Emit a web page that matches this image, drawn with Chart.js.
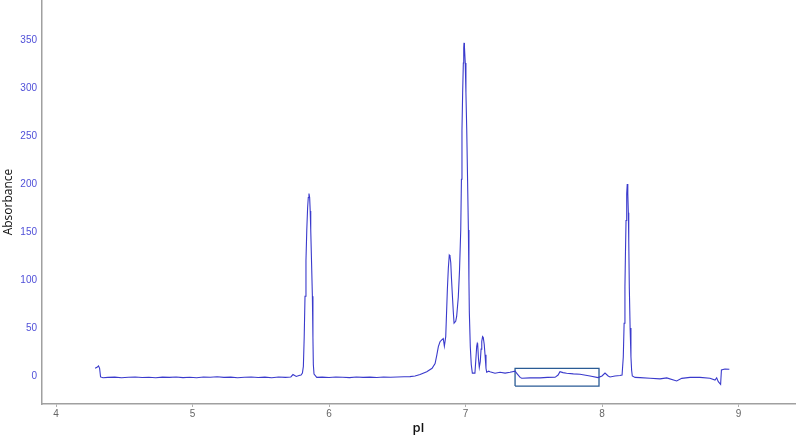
<!DOCTYPE html>
<html>
<head>
<meta charset="utf-8">
<script src="https://cdn.jsdelivr.net/npm/chart.js@4/dist/chart.umd.min.js"></script>
<style>
  html, body { margin: 0; padding: 0; background: #fff; }
  #wrap { width: 800px; height: 438px; }
</style>
</head>
<body>
<div id="wrap"><canvas id="chart"></canvas></div>
<script>
// pI positions and absorbance
const pI = [
  4.286, 4.300, 4.311, 4.319, 4.326, 4.344, 4.38, 4.43, 4.48, 4.53, 4.58, 4.63, 4.68, 4.73,
  4.78, 4.83, 4.88, 4.93, 4.98, 5.03, 5.08, 5.13, 5.18, 5.23, 5.28, 5.33, 5.38, 5.43, 5.48,
  5.53, 5.58, 5.63, 5.68, 5.72, 5.736, 5.76, 5.78, 5.795, 5.805,
  5.812, 5.818, 5.824, 5.831, 5.837, 5.843, 5.848, 5.853, 5.858, 5.862, 5.866, 5.872, 5.878,
  5.882, 5.885, 5.89, 5.91, 5.95, 6.00, 6.05, 6.10, 6.15, 6.20, 6.25, 6.30,
  6.35, 6.40, 6.45, 6.50, 6.55, 6.593, 6.63, 6.667, 6.716, 6.755, 6.777, 6.79, 6.801, 6.813,
  6.826, 6.837, 6.845, 6.855, 6.867, 6.874, 6.881, 6.886, 6.892, 6.897, 6.903, 6.910, 6.916,
  6.928, 6.935, 6.947, 6.956, 6.965, 6.970, 6.974, 6.979, 6.984, 6.987, 6.989, 6.992, 6.998,
  7.003, 7.009, 7.015, 7.021, 7.025, 7.028, 7.035, 7.042, 7.050, 7.069, 7.076, 7.082, 7.086,
  7.089, 7.095, 7.101, 7.108, 7.114, 7.119, 7.125, 7.130, 7.137, 7.143, 7.150, 7.155,
  7.170, 7.179, 7.216, 7.253, 7.29, 7.326, 7.363, 7.38, 7.40,
  7.412, 7.473, 7.546, 7.60, 7.656, 7.678, 7.692, 7.714, 7.741, 7.79, 7.839, 7.912, 7.971,
  8.0, 8.022, 8.045, 8.059, 8.095, 8.132, 8.147, 8.156, 8.162, 8.168, 8.172, 8.176, 8.181,
  8.185, 8.189, 8.193, 8.196, 8.200, 8.206, 8.212, 8.217, 8.222,
  8.242, 8.279, 8.352, 8.425, 8.474, 8.547, 8.584, 8.645, 8.718, 8.791, 8.828,
  8.840, 8.852, 8.869, 8.875, 8.901, 8.933
];
const absorbance = [
  8, 9, 10.5, 8, -1, -1.8, -1.5, -1.2, -1.8, -1.3, -1.0, -1.6, -1.4, -1.9,
  -1.2, -1.5, -1.0, -1.7, -1.3, -1.8, -1.1, -1.4, -0.8, -1.5, -1.2, -1.9, -1.3, -1.0, -1.6,
  -1.2, -1.8, -1.1, -1.5, -1.0, 1.5, -0.5, 0.5, 1, 3,
  10, 40, 83, 120, 152, 175, 186, 190, 186, 172, 152, 118, 83,
  40, 12, 2, -1.5, -1.2, -1.6, -1.0, -1.4, -1.7, -1.1, -1.5, -1.2,
  -1.6, -1.0, -1.3, -1.0, -0.8, -0.7, 0, 1.5, 4.5, 8, 13, 22, 30.5, 35.7,
  37.5, 39, 31, 41, 90, 112, 126, 125, 118, 102, 86, 68, 55,
  57, 62, 82, 110, 152, 205, 256, 295, 326, 342, 347, 343, 326,
  295, 256, 205, 152, 100, 66, 30.5, 12, 3, 3, 18, 31, 34,
  33, 18, 9, 15, 28, 36, 41, 40, 33, 22, 8, 4,
  5, 4.5, 2.8, 3.8, 3, 3.8, 5, 2, -1.5,
  -2.4, -2, -2, -1.5, -1.4, 1, 4.5, 3.5, 2.8, 2.2, 1.8, 0, -1.7,
  0, 3, 0, -1, 0, 0.5, 1, 20, 55, 93, 130, 162, 190,
  200, 190, 170, 140, 93, 50, 20, 6, 0,
  -1.5, -1.7, -2.4, -3, -2, -5.2, -2.5, -1.5, -1.5, -2.4, -4.2,
  -2, -6, -8.7, 6.2, 7.3, 7
];

// highlighted region (pI range and absorbance range of the box)
const boxPI = [7.363, 7.363, 7.978, 7.978, 7.363];
const boxAbs = [-10.5, 8, 8, -10.5, -10.5];

const xTicks = [4, 5, 6, 7, 8, 9];
const yTicks = [0, 50, 100, 150, 200, 250, 300, 350];

const trace = pI.map((x, i) => ({ x: x, y: absorbance[i] }));
const box = boxPI.map((x, i) => ({ x: x, y: boxAbs[i] }));

const ctx = document.getElementById("chart").getContext("2d");
const chart = new Chart(ctx, {
  type: "scatter",
  data: {
    datasets: [
      {
        label: "Absorbance",
        data: trace,
        showLine: true,
        borderColor: "#3a3acc",
        borderWidth: 1.1,
        pointRadius: 0,
        tension: 0,
      },
      {
        label: "box",
        data: box,
        showLine: true,
        borderColor: "#2a5b95",
        borderWidth: 1.3,
        pointRadius: 0,
        tension: 0,
      },
    ],
  },
  options: {
    responsive: true,
    maintainAspectRatio: false,
    animation: false,
    layout: { padding: { top: 0, right: 5, bottom: 0, left: 0 } },
    plugins: {
      legend: { display: false },
      tooltip: { enabled: false },
    },
    scales: {
      x: {
        type: "linear",
        min: 3.897,
        max: 9.414,
        afterFit: (s) => { s.height = 34; s.paddingLeft = 0; s.paddingRight = 0; },
        afterBuildTicks: (s) => { s.ticks = xTicks.map((v) => ({ value: v })); },
        border: { color: "#a0a0a0", width: 1.5 },
        grid: { drawOnChartArea: false, tickLength: 3, color: "#b0b0b0" },
        ticks: {
          color: "#666",
          padding: 1,
          maxRotation: 0,
          font: { family: "Liberation Sans", size: 10 },
        },
        title: {
          display: true,
          text: "pI",
          color: "#111",
          padding: { top: 0, bottom: 2 },
          font: { family: "Open Sans", size: 13, weight: "600" },
        },
      },
      y: {
        min: -29.2,
        max: 391.7,
        afterFit: (s) => { s.width = 42; s.paddingTop = 0; s.paddingBottom = 0; },
        afterBuildTicks: (s) => { s.ticks = yTicks.map((v) => ({ value: v })); },
        border: { color: "#a0a0a0", width: 1.5 },
        grid: { display: false, drawTicks: false },
        ticks: {
          color: "#4f4fd8",
          padding: 5,
          font: { family: "Liberation Sans", size: 10 },
        },
        title: {
          display: true,
          text: "Absorbance",
          color: "#111",
          padding: { top: 1, bottom: 0 },
          font: { family: "Open Sans", size: 12 },
        },
      },
    },
  },
});
</script>
</body>
</html>
